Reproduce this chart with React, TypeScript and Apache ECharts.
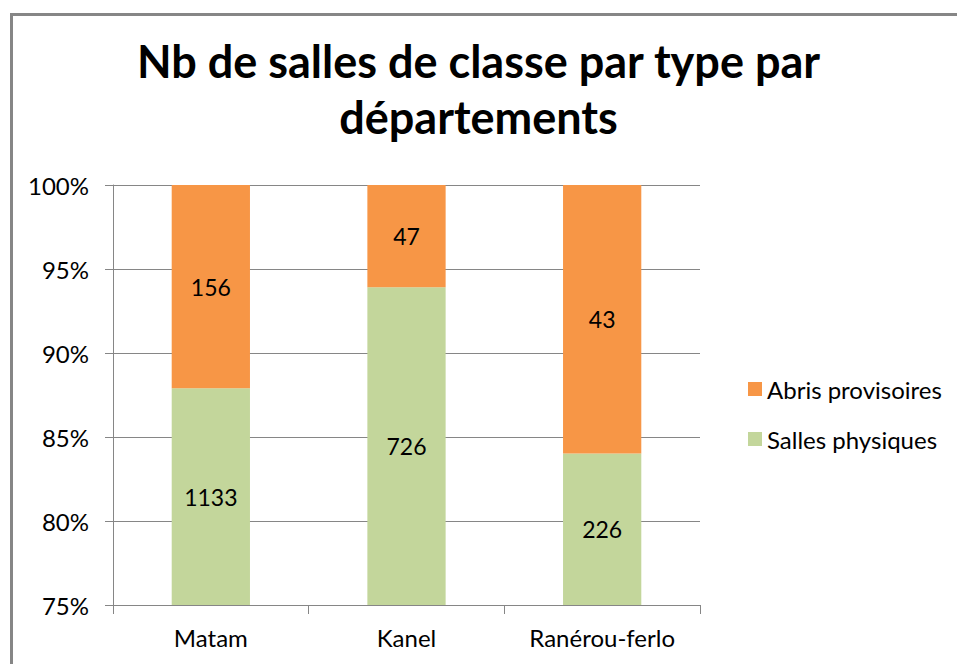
import React, { useEffect, useRef } from "react";
import * as echarts from "echarts";

const categories = ["Matam", "Kanel", "Ranérou-ferlo"];
const sallesPhysiques = [1133, 726, 226];
const abrisProvisoires = [156, 47, 43];
const seriesNames = ["Abris provisoires", "Salles physiques"];
const titleText = "Nb de salles de classe par type par\ndépartements";

const FONT = "Lato, 'Open Sans', sans-serif";

export default function App() {
  const ref = useRef<HTMLDivElement>(null);
  useEffect(() => {
    if (!ref.current) return;
    const chart = echarts.init(ref.current, null, { renderer: "svg" });
    const totals = categories.map((_, i) => sallesPhysiques[i] + abrisProvisoires[i]);
    const pctSalles = sallesPhysiques.map((v, i) => (v / totals[i]) * 100);
    const pctAbris = abrisProvisoires.map((v, i) => (v / totals[i]) * 100);
    const raw: Record<string, number[]> = {
      "Salles physiques": sallesPhysiques,
      "Abris provisoires": abrisProvisoires,
    };
    const labelCfg = {
      show: true,
      position: "inside",
      color: "#000",
      fontFamily: FONT,
      fontSize: 23,
      formatter: (p: any) => String(raw[p.seriesName][p.dataIndex]),
    };
    chart.setOption({
      animation: false,
      backgroundColor: "#fff",
      title: {
        text: titleText,
        left: "center",
        top: 28,
        textStyle: {
          fontFamily: FONT,
          fontWeight: "bold",
          fontSize: 45,
          lineHeight: 56,
          color: "#000",
        },
      },
      legend: {
        orient: "vertical",
        left: 743,
        top: 372,
        itemWidth: 14,
        itemHeight: 14,
        itemGap: 26,
        itemTextGap: 4,
        icon: "rect",
        data: seriesNames,
        textStyle: { fontFamily: FONT, fontSize: 24, color: "#000" },
      },
      grid: { left: 113, right: 257, top: 185, bottom: 59 },
      xAxis: {
        type: "category",
        data: categories,
        axisLine: { lineStyle: { color: "#868686", width: 1 } },
        axisTick: { show: true, alignWithLabel: false, length: 9, lineStyle: { color: "#868686" } },
        axisLabel: { fontFamily: FONT, fontSize: 24, color: "#000", margin: 20 },
      },
      yAxis: {
        type: "value",
        min: 75,
        max: 100,
        interval: 5,
        axisLine: { show: true, lineStyle: { color: "#868686", width: 1 } },
        axisTick: { show: true, length: 8, lineStyle: { color: "#868686" } },
        axisLabel: { formatter: "{value}%", fontFamily: FONT, fontSize: 24, color: "#000", margin: 24 },
        splitLine: { lineStyle: { color: "#868686", width: 1 } },
      },
      graphic: [
        {
          type: "rect",
          shape: { x: 11.5, y: 14.5, width: 1000, height: 700 },
          style: { fill: "none", stroke: "#868686", lineWidth: 3 },
          silent: true,
          z: 100,
        },
      ],
      series: [
        {
          name: "Salles physiques",
          type: "bar",
          stack: "total",
          barWidth: "40%",
          data: pctSalles,
          itemStyle: { color: "#C3D69B" },
          label: labelCfg,
        },
        {
          name: "Abris provisoires",
          type: "bar",
          stack: "total",
          barWidth: "40%",
          data: pctAbris,
          itemStyle: { color: "#F79646" },
          label: labelCfg,
        },
      ],
    });
    return () => chart.dispose();
  }, []);
  return (
    <div
      ref={ref}
      style={{ position: "fixed", left: 0, top: 0, width: 957, height: 664 }}
    />
  );
}
